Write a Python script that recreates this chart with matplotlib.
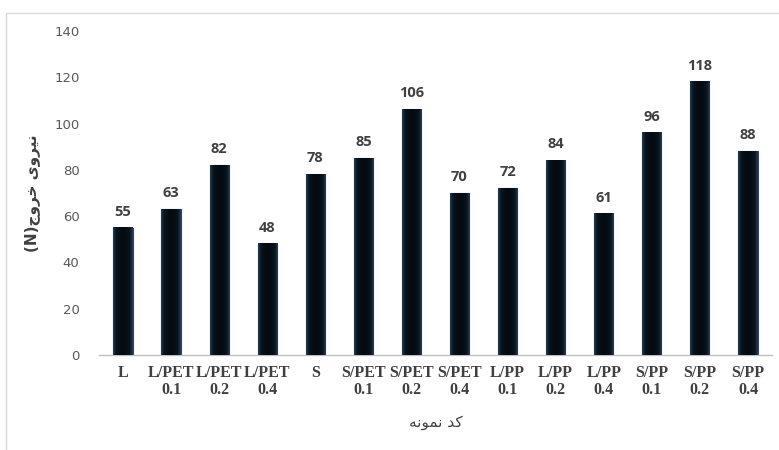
import numpy as np
import matplotlib.pyplot as plt
from matplotlib.colors import LinearSegmentedColormap
from matplotlib.patches import Rectangle

# کدهای نمونه و نیروی خروج (N)
codes = ['L', 'L/PET\n0.1', 'L/PET\n0.2', 'L/PET\n0.4', 'S', 'S/PET\n0.1', 'S/PET\n0.2',
         'S/PET\n0.4', 'L/PP\n0.1', 'L/PP\n0.2', 'L/PP\n0.4', 'S/PP\n0.1', 'S/PP\n0.2', 'S/PP\n0.4']
force = [55, 63, 82, 48, 78, 85, 106, 70, 72, 84, 61, 96, 118, 88]
yticks = [0, 20, 40, 60, 80, 100, 120, 140]

# متن فارسی با حروف شکل‌گرفته (ترتیب نمایشی)
ylab = '(N)' + '\uFE9D\uFEED\uFEAE\uFEA7' + ' ' + '\uFBFC\uFEED\uFEAE\uFBFF\uFEE7'
xlab = '\uFEEA\uFEE7\uFEEE\uFEE4\uFEE7' + ' ' + '\uFEAA\uFB90'

fig = plt.figure(figsize=(7.79, 4.5), dpi=100)
ax = fig.add_axes([0.127, 0.211, 0.864, 0.72])

x = np.arange(len(force))
bars = ax.bar(x, force, width=0.4, color='#08111b', edgecolor='#2f4560', linewidth=0.8, zorder=2)

# گرادیان افقی داخل ستون‌ها
cm = LinearSegmentedColormap.from_list('g', ['#050b12', '#0a1520', '#2a3e58'])
grad = (np.abs(np.linspace(-1, 1, 64)) ** 2)[np.newaxis, :]
for b in bars:
    x0, w, h = b.get_x(), b.get_width(), b.get_height()
    ax.imshow(grad, extent=(x0, x0 + w, 0, h), aspect='auto', cmap=cm,
              zorder=3, interpolation='bicubic')
    ax.text(x0 + w / 2, h + 4, str(int(h)), ha='center', va='bottom', fontsize=10.5,
            fontweight='bold', color='#404040', family='Open Sans')

ax.set_xlim(-0.5, len(force) - 0.5)
ax.set_ylim(0, 140)
ax.set_yticks(yticks)
ax.set_xticks(x)
ax.set_xticklabels(codes, family='Liberation Serif', fontweight='bold', fontsize=11.5,
                   color='#404040', linespacing=1.1)
for lbl in ax.get_yticklabels():
    lbl.set_color('#595959')
    lbl.set_fontsize(9.5)
ax.tick_params(axis='both', length=0)
ax.tick_params(axis='y', pad=14)
ax.tick_params(axis='x', pad=7)
for s in ['top', 'right', 'left']:
    ax.spines[s].set_visible(False)
ax.spines['bottom'].set_color('#bfbfbf')
ax.spines['bottom'].set_linewidth(1)

ax.set_ylabel(ylab, family='DejaVu Sans', fontweight='bold', fontsize=11, color='#404040', labelpad=10)
ax.set_xlabel(xlab, family='DejaVu Sans', fontsize=11, color='#404040', labelpad=12)

# قاب بیرونی
fig.patches.append(Rectangle((6 / 779, -0.1), 1.1, (450 - 13) / 450 + 0.1, transform=fig.transFigure,
                             fill=False, edgecolor='#d9d9d9', linewidth=1))

fig.savefig('out.png', dpi=100)
